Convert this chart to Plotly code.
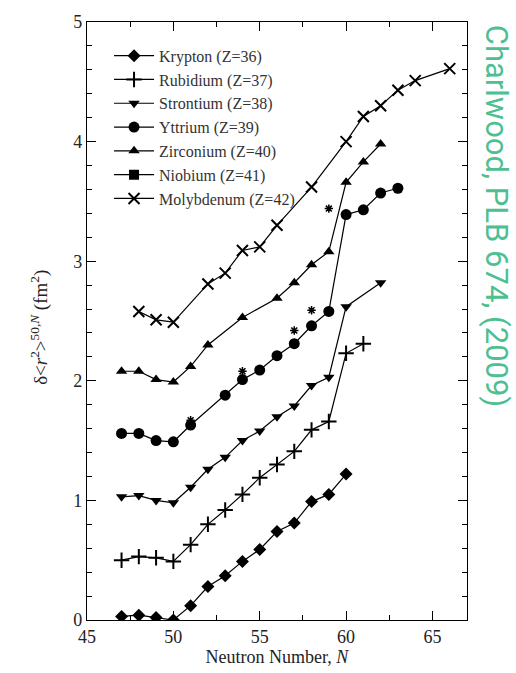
import plotly.graph_objects as go

# Neutron numbers and delta <r^2> values (fm^2)
kr_n = [47, 48, 49, 50, 51, 52, 53, 54, 55, 56, 57, 58, 59, 60]
kr_v = [0.03, 0.04, 0.02, 0.0, 0.12, 0.28, 0.37, 0.49, 0.59, 0.74, 0.81, 0.99, 1.05, 1.22]

rb_n = [47, 48, 49, 50, 51, 52, 53, 54, 55, 56, 57, 58, 59, 60, 61]
rb_v = [0.50, 0.53, 0.52, 0.49, 0.63, 0.80, 0.92, 1.05, 1.19, 1.30, 1.41, 1.59, 1.66, 2.23, 2.31]

sr_n = [47, 48, 49, 50, 51, 52, 53, 54, 55, 56, 57, 58, 59, 60, 62]
sr_v = [1.03, 1.04, 1.00, 0.98, 1.11, 1.26, 1.36, 1.50, 1.58, 1.70, 1.79, 1.96, 2.03, 2.62, 2.82]

y_n = [47, 48, 49, 50, 51, 53, 54, 55, 56, 57, 58, 59, 60, 61, 62, 63]
y_v = [1.56, 1.56, 1.50, 1.49, 1.63, 1.88, 2.01, 2.09, 2.21, 2.31, 2.46, 2.58, 3.39, 3.43, 3.57, 3.61]

ystar_n = [51, 54, 57, 58, 59]
ystar_v = [1.67, 2.08, 2.42, 2.59, 3.44]

zr_n = [47, 48, 49, 50, 51, 52, 54, 56, 57, 58, 59, 60, 61, 62]
zr_v = [2.08, 2.08, 2.01, 1.99, 2.12, 2.30, 2.53, 2.69, 2.82, 2.97, 3.08, 3.66, 3.83, 3.98]

nb_n = [None]
nb_v = [None]

mo_n = [48, 49, 50, 52, 53, 54, 55, 56, 58, 60, 61, 62, 63, 64, 66]
mo_v = [2.58, 2.51, 2.49, 2.81, 2.90, 3.09, 3.12, 3.30, 3.62, 4.00, 4.21, 4.30, 4.43, 4.51, 4.61]

series = [
    ("Krypton (Z=36)", kr_n, kr_v, "diamond", 10),
    ("Rubidium (Z=37)", rb_n, rb_v, "cross-thin", 11),
    ("Strontium (Z=38)", sr_n, sr_v, "triangle-down", 10),
    ("Yttrium (Z=39)", y_n, y_v, "circle", 11),
    ("Zirconium (Z=40)", zr_n, zr_v, "triangle-up", 10),
    ("Niobium (Z=41)", nb_n, nb_v, "square", 10),
    ("Molybdenum (Z=42)", mo_n, mo_v, "x-thin", 11),
]

fig = go.Figure()
for name, xs, ys, sym, sz in series:
    thin = sym.endswith("-thin")
    fig.add_trace(go.Scatter(
        x=xs, y=ys, name=name, mode="lines+markers", showlegend=True,
        line=dict(color="black", width=1.2),
        marker=dict(symbol=sym, size=sz, color="black",
                    line=dict(color="black", width=2 if thin else 0)),
    ))

fig.add_trace(go.Scatter(
    x=ystar_n, y=ystar_v, mode="markers", showlegend=False,
    marker=dict(symbol="asterisk", size=7, color="black",
                line=dict(color="black", width=1.5)),
))

axis_common = dict(
    showline=True, linecolor="black", linewidth=1.2, mirror="allticks",
    ticks="inside", ticklen=9, tickwidth=1.2, tickcolor="black",
    showgrid=False, zeroline=False,
    tickfont=dict(family="Liberation Serif", size=18, color="#222"),
)

fig.update_xaxes(
    range=[45, 67], dtick=5, tick0=45,
    minor=dict(ticks="inside", dtick=2.5, ticklen=5, tickcolor="black", tickwidth=1),
    title=dict(text="Neutron Number, <i>N</i>", standoff=2,
               font=dict(family="Liberation Serif", size=18, color="#222")),
    **axis_common,
)
fig.update_yaxes(
    range=[0, 5], dtick=1,
    minor=dict(ticks="inside", dtick=0.2, ticklen=5, tickcolor="black", tickwidth=1),
    **axis_common,
)

fig.add_annotation(
    text="δ&lt;<i>r</i><sup>2</sup>&gt;<sup>50,<i>N</i></sup> (fm<sup>2</sup>)", textangle=-90,
    xref="paper", yref="paper", x=-0.124, y=0.49,
    xanchor="center", yanchor="middle", showarrow=False,
    font=dict(family="Liberation Serif", size=19, color="#222"),
)

fig.add_annotation(
    text="Charlwood, PLB 674, (2009)", textangle=90,
    xref="paper", yref="paper", x=1.078, y=0.675,
    xanchor="center", yanchor="middle", showarrow=False,
    font=dict(family="Roboto", size=31, color="#4dbf91"),
)

fig.update_layout(
    width=516, height=673,
    margin=dict(l=87, r=49, t=14, b=52),
    paper_bgcolor="white", plot_bgcolor="white",
    showlegend=True,
    legend=dict(x=0.058, y=0.972, xanchor="left", yanchor="top",
                bgcolor="rgba(0,0,0,0)", borderwidth=0,
                font=dict(family="Liberation Serif", size=16, color="#333"),
                itemwidth=40, tracegroupgap=0),
)

fig.write_html("out.html")
